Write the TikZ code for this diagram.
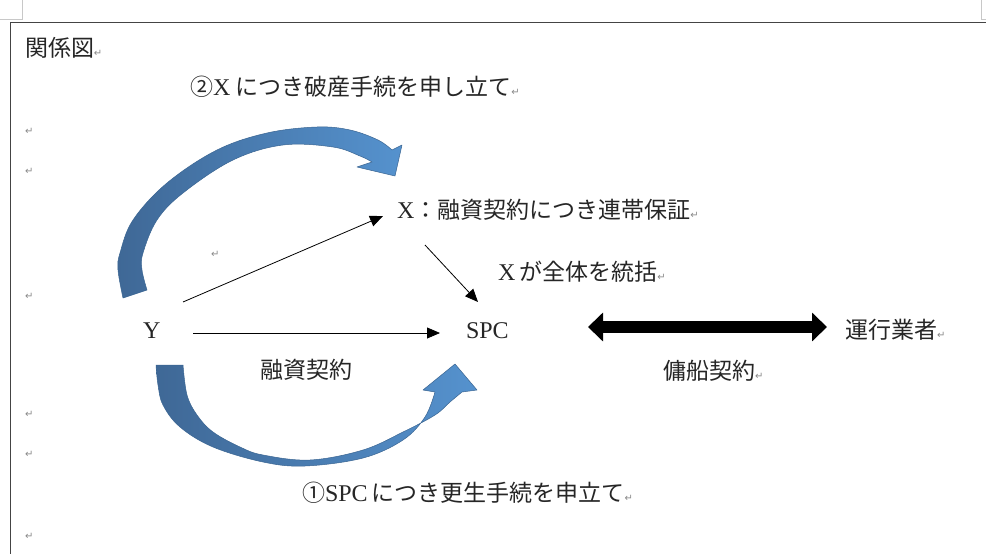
\documentclass[tikz,border=0pt]{standalone}
\usepackage{fontspec}
\setmainfont{Liberation Serif}
\newfontfamily\jp{Noto Sans CJK JP}
\newfontfamily\dv{DejaVu Sans}
\usetikzlibrary{arrows.meta}
\definecolor{arrowdark}{HTML}{3F6896}
\definecolor{arrowlight}{HTML}{5592CE}
\definecolor{arrowedge}{HTML}{3A6592}
\definecolor{markgray}{HTML}{8A8A8A}
\definecolor{framegray}{HTML}{444444}
\definecolor{cropgray}{HTML}{C8C8C8}
\definecolor{txt}{HTML}{262626}
\newcommand\J[1]{{\jp\fontsize{23}{23}\selectfont #1}}
\newcommand\pmk{{\dv\fontsize{10}{10}\selectfont\textcolor{markgray}{↵}}}
\tikzset{
  lbl/.style={inner sep=0pt, outer sep=0pt, anchor=base west, text=txt, font=\fontsize{24}{24}\selectfont},
  pm/.style={inner sep=0pt, outer sep=0pt, anchor=base west, font=\dv\fontsize{10}{10}\selectfont, text=markgray},
  conn/.style={draw=black, line width=0.8pt, -{Triangle[length=13pt,width=11pt]}},
  dbl/.style={draw=black, line width=12pt, {Triangle[length=15pt,width=28pt]}-{Triangle[length=15pt,width=28pt]}},
  blockarrow/.style={left color=arrowdark, right color=arrowlight, draw=arrowedge, line width=0.5pt, line join=round}
}
\begin{document}
\begin{tikzpicture}[x=1pt,y=-1pt]
\useasboundingbox[fill=white] (0,0) rectangle (986,554);
% page frame and crop marks
\draw[cropgray, line width=1pt] (22.5,0) -- (22.5,19.5) -- (0,19.5);
\draw[cropgray, line width=1pt] (981.5,0) -- (981.5,19.5) -- (986,19.5);
\draw[framegray, line width=1.2pt] (986,22.3) -- (10.6,22.3) -- (10.6,554);

% curved block arrows
\path[blockarrow]
  plot[smooth, tension=0.6] coordinates {(123,298) (118,270) (120,253) (133,220) (167,183) (217,150) (267,133) (317,127) (350,130) (378,140) (392,150)}
  -- (402,145) -- (395,176) -- (357,167) -- (372,162)
  -- plot[smooth, tension=0.6] coordinates {(372,162) (360,156) (333,147) (283,145) (233,160) (183,193) (157,220) (143,253) (142,270) (147,290)}
  -- cycle;
\path[blockarrow]
  plot[smooth, tension=0.6] coordinates {(156,365) (158,385) (163,405) (180,427) (213,447) (263,462) (305,466) (363,458) (403,440) (425,417) (435,392)}
  -- (423,390) -- (455,364) -- (477,390) -- (462,392)
  -- plot[smooth, tension=0.6] coordinates {(462,392) (450,402) (435,415) (403,432) (363,450) (310,460) (263,455) (240,447) (213,432) (197,415) (187,395) (183,365)}
  -- cycle;

% texts
\node[lbl] (title) at (25,56) {\J{関係図}\pmk};
\node[lbl] (bk) at (190,95) {\J{②}X\hspace{5pt}\J{につき破産手続を申し立て}\pmk};
\node[lbl] (xg) at (397,218) {X\J{：融資契約につき連帯保証}\pmk};
\node[lbl] (xc) at (498,280) {X\hspace{4pt}\J{が全体を統括}\pmk};
\node[lbl] (Y) at (143,338) {Y};
\node[lbl] (spc) at (466,338) {SPC};
\node[lbl] (op) at (845,338) {\J{運行業者}\pmk};
\node[lbl] (loan) at (260,378) {\J{融資契約}};
\node[lbl] (charter) at (663,379) {\J{傭船契約}\pmk};
\node[lbl] (rh) at (302,501) {\J{①}SPC\hspace{4pt}\J{につき更生手続を申立て}\pmk};

% stray paragraph marks
\node[pm] (pm1) at (25,134) {↵};
\node[pm] (pm2) at (25,174) {↵};
\node[pm] (pm3) at (25,299) {↵};
\node[pm] (pm4) at (25,417) {↵};
\node[pm] (pm5) at (25,457) {↵};
\node[pm] (pm6) at (25,539) {↵};
\node[pm] (pm7) at (211,257) {↵};

% connectors
\draw[conn] ([shift={(40,-36)}]Y.base west) -- ([shift={(-14,-2)}]xg.base west);
\draw[conn] ([shift={(28,27)}]xg.base west) -- ([shift={(12,-36)}]spc.base west);
\draw[conn] ([shift={(50,-5)}]Y.base west) -- ([shift={(-26,-5)}]spc.base west);
\draw[dbl] ([shift={(122,-11)}]spc.base west) -- ([shift={(-18,-11)}]op.base west);
\end{tikzpicture}
\end{document}
